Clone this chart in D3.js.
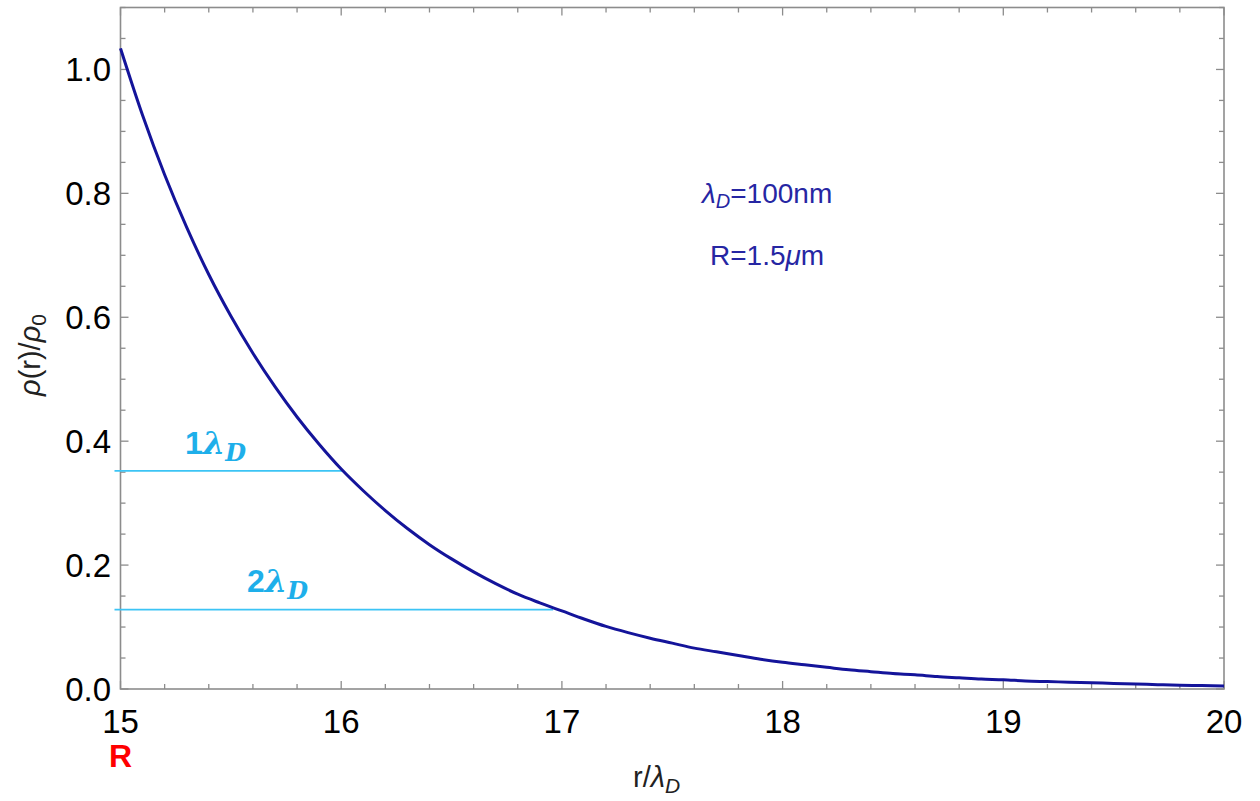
<!DOCTYPE html>
<html>
<head>
<meta charset="utf-8">
<script src="https://cdn.jsdelivr.net/npm/d3@7/dist/d3.min.js"></script>
<style>
  html, body { margin: 0; padding: 0; background: #fff; }
  svg { display: block; }
  text { font-family: "Liberation Sans", Arial, sans-serif; }
</style>
</head>
<body>
<svg id="chart" width="1260" height="801"></svg>
<script>
// ---- data ----
const rValues = [15.0,15.1,15.2,15.3,15.4,15.5,15.6,15.7,15.8,15.9,
                 16.0,16.1,16.2,16.3,16.4,16.5,16.6,16.7,16.8,16.9,
                 17.0,17.1,17.2,17.3,17.4,17.5,17.6,17.7,17.8,17.9,
                 18.0,18.1,18.2,18.3,18.4,18.5,18.6,18.7,18.8,18.9,
                 19.0,19.1,19.2,19.3,19.4,19.5,19.6,19.7,19.8,19.9,20.0];
const rhoValues = [1.034,0.926,0.830,0.745,0.669,0.602,0.542,0.488,0.439,0.395,
                   0.355,0.320,0.288,0.259,0.233,0.210,0.189,0.170,0.153,0.139,
                   0.126,0.113,0.101,0.091,0.082,0.074,0.066,0.060,0.054,0.048,
                   0.043,0.039,0.035,0.031,0.028,0.025,0.023,0.020,0.018,0.016,
                   0.015,0.013,0.012,0.011,0.010,0.009,0.008,0.007,0.006,0.0055,0.005];
const xTickValues = [15,16,17,18,19,20];
const yTickValues = [0.0,0.2,0.4,0.6,0.8,1.0];
const markerLabels = ["1", "2"];
const markerLevels = [0.352, 0.128];
const markerEnds = [16.01, 16.96];

// ---- layout ----
const svg = d3.select("#chart");
const L = 120.5, R = 1224, T = 7.5, B = 689;
const x = d3.scaleLinear().domain([15, 20]).range([L, R]);
const y = d3.scaleLinear().domain([0, 1.1]).range([B, T]);

const frameColor = "#8c8c8c";
const curveColor = "#14149a";
const cyan = "#3cc4f5";
const cyanText = "#1eafea";

const xMinor = d3.range(15, 20.0001, 0.2).filter(v => Math.abs(v - Math.round(v)) > 1e-6);
const yMinor = d3.range(0, 1.1001, 0.05).filter(v => Math.abs(v*5 - Math.round(v*5)) > 1e-6);
const yMajorAll = [0,0.2,0.4,0.6,0.8,1.0];

const ticks = svg.append("g").attr("stroke", frameColor).attr("stroke-width", 1.3);
xTickValues.forEach(v => {
  ticks.append("line").attr("x1", x(v)).attr("x2", x(v)).attr("y1", B).attr("y2", B - 8);
  ticks.append("line").attr("x1", x(v)).attr("x2", x(v)).attr("y1", T).attr("y2", T + 8);
});
xMinor.forEach(v => {
  ticks.append("line").attr("x1", x(v)).attr("x2", x(v)).attr("y1", B).attr("y2", B - 5);
  ticks.append("line").attr("x1", x(v)).attr("x2", x(v)).attr("y1", T).attr("y2", T + 5);
});
yMajorAll.forEach(v => {
  ticks.append("line").attr("x1", L).attr("x2", L + 8).attr("y1", y(v)).attr("y2", y(v));
  ticks.append("line").attr("x1", R).attr("x2", R - 8).attr("y1", y(v)).attr("y2", y(v));
});
yMinor.forEach(v => {
  ticks.append("line").attr("x1", L).attr("x2", L + 5).attr("y1", y(v)).attr("y2", y(v));
  ticks.append("line").attr("x1", R).attr("x2", R - 5).attr("y1", y(v)).attr("y2", y(v));
});

svg.append("rect")
  .attr("x", L).attr("y", T).attr("width", R - L).attr("height", B - T)
  .attr("fill", "none").attr("stroke", frameColor).attr("stroke-width", 1.6);

svg.append("g").selectAll("text").data(xTickValues).join("text")
  .attr("x", d => x(d)).attr("y", 733)
  .attr("text-anchor", "middle").attr("font-size", 33).attr("fill", "#000")
  .text(d => d3.format("d")(d));
svg.append("g").selectAll("text").data(yTickValues).join("text")
  .attr("x", 111).attr("y", d => y(d)).attr("dy", "0.36em")
  .attr("text-anchor", "end").attr("font-size", 33).attr("fill", "#000")
  .text(d => d3.format(".1f")(d));

markerLevels.forEach((lv, i) => {
  svg.append("line")
    .attr("x1", x(15) - 6).attr("x2", x(markerEnds[i]))
    .attr("y1", y(lv)).attr("y2", y(lv))
    .attr("stroke", cyan).attr("stroke-width", 1.8);
});

const pts = rValues.map((r, i) => [r, rhoValues[i]]);
svg.append("path")
  .datum(pts)
  .attr("d", d3.line().x(d => x(d[0])).y(d => y(d[1])).curve(d3.curveMonotoneX))
  .attr("fill", "none").attr("stroke", curveColor).attr("stroke-width", 3);

const mlPos = [[185, 454], [247, 592]];
markerLabels.forEach((lab, i) => {
  const t = svg.append("text")
    .attr("x", mlPos[i][0]).attr("y", mlPos[i][1])
    .attr("font-size", 32).attr("font-weight", "bold").attr("fill", cyanText);
  t.append("tspan").text(lab);
  t.append("tspan").attr("font-family", "'DejaVu Serif', serif").attr("font-style", "italic").text("λ");
  t.append("tspan").attr("font-family", "'DejaVu Serif', serif").attr("font-style", "italic")
    .attr("font-size", 24).attr("dy", 7).text("D");
});

const ann1 = svg.append("text").attr("x", 702).attr("y", 203)
  .attr("font-size", 28).attr("fill", "#2626a3");
ann1.append("tspan").attr("font-style", "italic").text("λ");
ann1.append("tspan").attr("font-style", "italic").attr("font-size", 20).attr("dy", 5).text("D");
ann1.append("tspan").attr("dy", -5).text("=100nm");

const ann2 = svg.append("text").attr("x", 710).attr("y", 265)
  .attr("font-size", 28).attr("fill", "#2626a3");
ann2.append("tspan").text("R=1.5");
ann2.append("tspan").attr("font-style", "italic").text("μ");
ann2.append("tspan").text("m");

svg.append("text").attr("x", x(15)).attr("y", 767)
  .attr("text-anchor", "middle").attr("font-size", 32).attr("font-weight", "bold")
  .attr("fill", "#ff0000").text("R");

const xt = svg.append("text").attr("x", 633).attr("y", 787)
  .attr("font-size", 29).attr("fill", "#222");
xt.append("tspan").text("r/");
xt.append("tspan").attr("font-style", "italic").text("λ");
xt.append("tspan").attr("font-style", "italic").attr("font-size", 21).attr("dy", 6).text("D");

const yt = svg.append("text")
  .attr("transform", "translate(40,355) rotate(-90)")
  .attr("text-anchor", "middle").attr("font-size", 29).attr("fill", "#222");
yt.append("tspan").attr("font-style", "italic").text("ρ");
yt.append("tspan").text("(r)/");
yt.append("tspan").attr("font-style", "italic").text("ρ");
yt.append("tspan").attr("font-size", 21).attr("dy", 6).text("0");
</script>
</body>
</html>
